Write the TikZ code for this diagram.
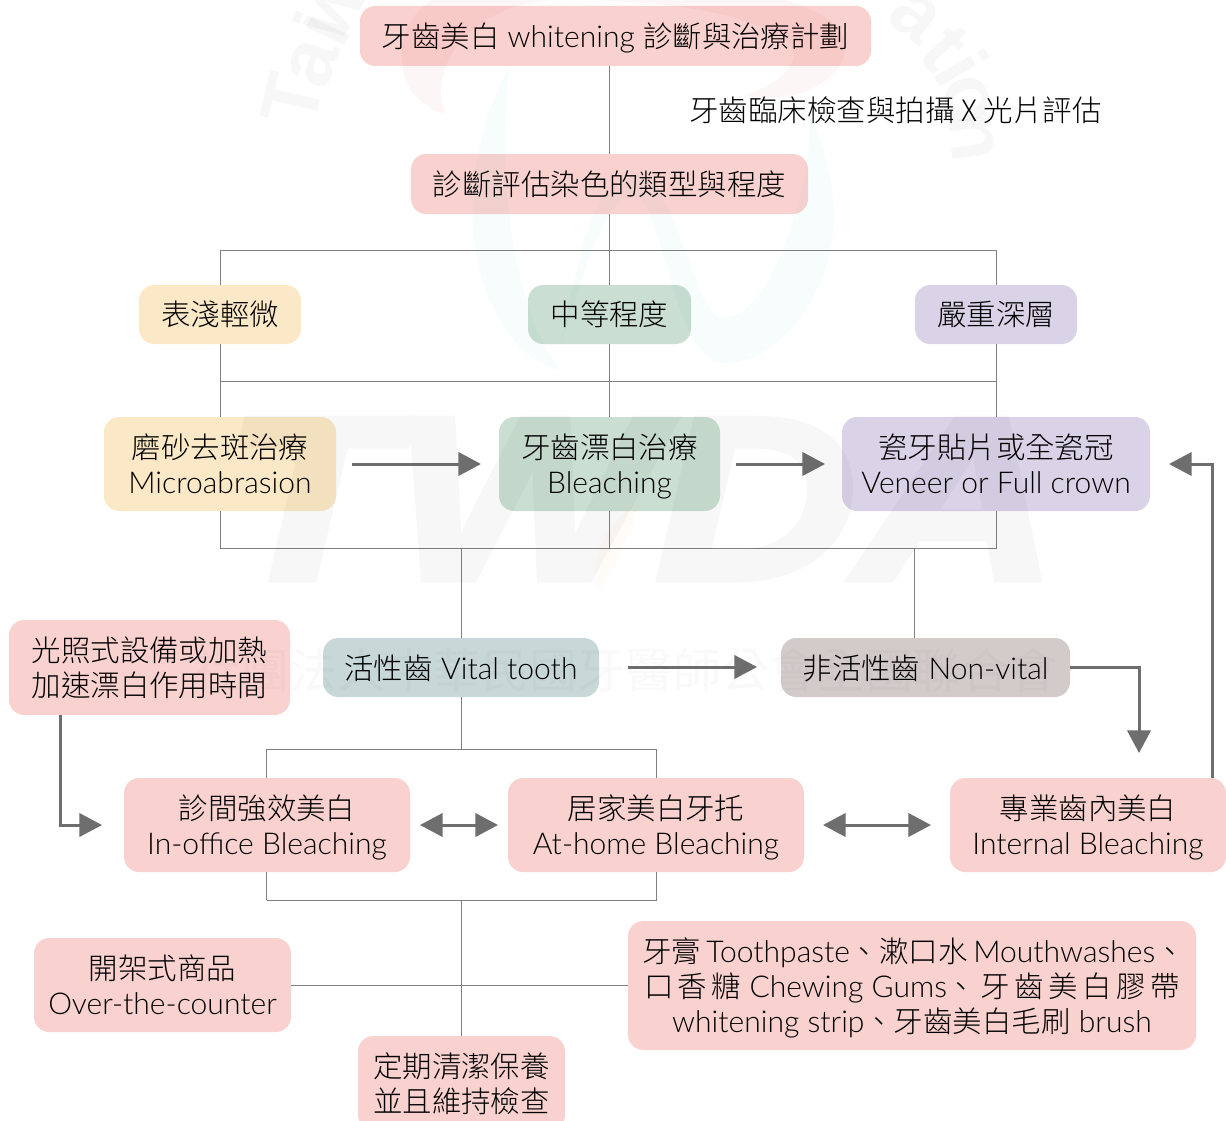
\documentclass[tikz,border=0pt]{standalone}
\usepackage{fontspec}
\usetikzlibrary{arrows.meta}
\setmainfont[Scale=1.02]{Lato Light}
\newfontfamily\cj{Noto Sans CJK TC Light}
\newfontfamily\cjrow{Noto Sans CJK TC}
\newfontfamily\wmfont{Liberation Sans}
\newfontfamily\wmheavy[FakeBold=3]{Liberation Sans Bold Italic}
\newcommand{\C}[1]{{\cj #1}}
\definecolor{cpink}{HTML}{F9D2D0}
\definecolor{cyellow}{HTML}{FBE8C6}
\definecolor{cgreen}{HTML}{CBDED2}
\definecolor{cpurple}{HTML}{DAD3E8}
\definecolor{cteal}{HTML}{C8D8D9}
\definecolor{crose}{HTML}{D3CACA}
\definecolor{cline}{HTML}{808080}
\definecolor{carrow}{HTML}{6E6E6E}
\tikzset{
  wh/.style 2 args={minimum width=#1*0.75pt,minimum height=#2*0.75pt},
  pbox/.style={rounded corners=11.5pt,inner sep=0pt,align=center,text=black,
    font=\fontsize{22.1pt}{26.25pt}\selectfont,
    execute at begin node={\rule{0pt}{21.8pt}},
    execute at end node={\rule[-5pt]{0pt}{5pt}}},
  latinline/.style={execute at begin node={\rule{0pt}{22.6pt}}},
  twolines/.style={execute at begin node={\rule{0pt}{49.2pt}}},
  threelines/.style={execute at begin node={\rule{0pt}{75.7pt}}},
  thin line/.style={draw=cline,line width=0.6pt},
  arrowline/.style={draw=carrow,line width=2.25pt,-{Triangle[length=17pt,width=17.5pt]}},
  dblline/.style={draw=carrow,line width=2.25pt,{Triangle[length=17pt,width=17.5pt]}-{Triangle[length=17pt,width=17.5pt]}},
  wmletter/.style={text=black,text opacity=0.03,font=\wmfont\bfseries\fontsize{60pt}{60pt}\selectfont,inner sep=0pt},
  wmpink/.style={fill=red!85!black,fill opacity=0.035,draw=none},
  wmteal/.style={fill=teal!70!cyan,fill opacity=0.03,draw=none},
}
\begin{document}
\begin{tikzpicture}[x=0.75pt,y=-0.75pt]
\useasboundingbox (0,0) rectangle (1226,1120);
\clip (0,0) rectangle (1226,1120);
\fill[white] (0,0) rectangle (1226,1120);

% boxes
\node[pbox,latinline,fill=cpink,wh={511}{60}] (top) at (615.5,36) {\C{牙齒美白} whitening \C{診斷與治療計劃}};
\node[inner sep=0pt,text=black,font=\fontsize{22.1pt}{26.25pt}\selectfont] (note) at (895.5,110) {\C{牙齒臨床檢查與拍攝 X 光片評估}};
\node[pbox,fill=cpink,wh={397}{60}] (diag) at (609.5,184) {\C{診斷評估染色的類型與程度}};

\node[pbox,fill=cyellow,wh={162}{59}] (mild) at (220,314.5) {\C{表淺輕微}};
\node[pbox,fill=cgreen,wh={163}{59}] (medium) at (609.5,314.5) {\C{中等程度}};
\node[pbox,fill=cpurple,wh={162}{59}] (severe) at (996,314.5) {\C{嚴重深層}};

\node[pbox,twolines,fill=cyellow,wh={232}{94}] (micro) at (220,464) {\C{磨砂去斑治療}\\Microabrasion};
\node[pbox,twolines,fill=cgreen,wh={221}{94}] (bleach) at (609.5,464) {\C{牙齒漂白治療}\\Bleaching};
\node[pbox,twolines,fill=cpurple,wh={308}{94}] (veneer) at (996,464) {\C{瓷牙貼片或全瓷冠}\\Veneer or Full crown};

\node[pbox,twolines,fill=cpink,wh={281}{95}] (light) at (149.5,667.5) {\C{光照式設備或加熱}\\\C{加速漂白作用時間}};
\node[pbox,latinline,fill=cteal,wh={276}{59}] (vital) at (461,667.5) {\C{活性齒} Vital tooth};
\node[pbox,latinline,fill=crose,wh={289}{59}] (nonvital) at (925.5,667.5) {\C{非活性齒} Non-vital};

\node[pbox,twolines,fill=cpink,wh={286}{94}] (office) at (267,825) {\C{診間強效美白}\\In-office Bleaching};
\node[pbox,twolines,fill=cpink,wh={296}{94}] (home) at (656,825) {\C{居家美白牙托}\\At-home Bleaching};
\node[pbox,twolines,fill=cpink,wh={276}{94}] (internal) at (1088,825) {\C{專業齒內美白}\\Internal Bleaching};

\node[pbox,twolines,fill=cpink,wh={257}{94}] (otc) at (162.5,985) {\C{開架式商品}\\Over-the-counter};
\node[pbox,threelines,fill=cpink,wh={568}{129}] (paste) at (912,985.5) {%
  \makebox[405pt][s]{\C{牙膏} Toothpaste\C{、}\C{漱口水} Mouthwashes\C{、}}\\
  \makebox[402pt][s]{\C{口}\hfil\C{香}\hfil\C{糖} Chewing Gums\C{、}\hfil\C{牙}\hfil\C{齒}\hfil\C{美}\hfil\C{白}\hfil\C{膠}\hfil\C{帶}}\\
  whitening strip\C{、}\C{牙齒美白毛刷} brush};
\node[pbox,twolines,fill=cpink,wh={207}{94}] (clean) at (461.5,1083) {\C{定期清潔保養}\\\C{並且維持檢查}};

% junction coordinates
\coordinate (tl) at (220,250);
\coordinate (tr) at (996,250);
\coordinate (tc) at (609.5,250);
\coordinate (ml) at (220,381);
\coordinate (mr) at (996,381);
\coordinate (mc) at (609.5,381);
\coordinate (bl) at (220,548.5);
\coordinate (br) at (996,548.5);
\coordinate (bc) at (609.5,548.5);
\coordinate (bv) at (461.5,548.5);
\coordinate (bn) at (914.5,548.5);
\coordinate (ul) at (266.5,749);
\coordinate (ur) at (656.5,749);
\coordinate (uc) at (461.5,749);
\coordinate (ll) at (266.5,900);
\coordinate (lr) at (656.5,900);
\coordinate (lc) at (461.5,900);
\coordinate (cross) at (461.5,985.5);

% thin connectors
\draw[thin line] (top.south -| diag) -- (diag.north);
\draw[thin line] (diag.south) -- (tc);
\draw[thin line] (tl) -- (tr);
\draw[thin line] (tl) -- (mild.north);
\draw[thin line] (tc) -- (medium.north);
\draw[thin line] (tr) -- (severe.north);
\draw[thin line] (mild.south) -- (ml);
\draw[thin line] (medium.south) -- (mc);
\draw[thin line] (severe.south) -- (mr);
\draw[thin line] (ml) -- (mr);
\draw[thin line] (ml) -- (micro.north);
\draw[thin line] (mc) -- (bleach.north);
\draw[thin line] (mr) -- (veneer.north);
\draw[thin line] (micro.south) -- (bl);
\draw[thin line] (bleach.south) -- (bc);
\draw[thin line] (veneer.south) -- (br);
\draw[thin line] (bl) -- (br);
\draw[thin line] (bv) -- (bv |- vital.north);
\draw[thin line] (bn) -- (bn |- nonvital.north);
\draw[thin line] (uc |- vital.south) -- (uc);
\draw[thin line] (ul) -- (ur);
\draw[thin line] (ul) -- (ul |- office.north);
\draw[thin line] (ur) -- (ur |- home.north);
\draw[thin line] (ll |- office.south) -- (ll);
\draw[thin line] (lr |- home.south) -- (lr);
\draw[thin line] (ll) -- (lr);
\draw[thin line] (lc) -- (lc |- clean.north);
\draw[thin line] (otc.east |- cross) -- (paste.west |- cross);

% arrows
\coordinate (a1s) at (352,464); \coordinate (a1e) at (481,464);
\coordinate (a2s) at (736,464); \coordinate (a2e) at (825,464);
\coordinate (a3s) at (628,667); \coordinate (a3e) at (757,667);
\draw[arrowline] (a1s) -- (a1e);
\draw[arrowline] (a2s) -- (a2e);
\draw[arrowline] (a3s) -- (a3e);
\coordinate (a4m) at (1139,667); \coordinate (a4e) at (1139,753);
\draw[arrowline] (nonvital.east |- a4m) -- (a4m) -- (a4e);
\coordinate (a5m) at (1212,464); \coordinate (a5e) at (1169,464); \coordinate (a5s) at (1212,778);
\draw[arrowline] (a5s) -- (a5m) -- (a5e);
\coordinate (a6s) at (60,715); \coordinate (a6m) at (60,825); \coordinate (a6e) at (102,825);
\draw[arrowline] (a6s) -- (a6m) -- (a6e);
\coordinate (d1s) at (420,825); \coordinate (d1e) at (498,825);
\coordinate (d2s) at (823,825); \coordinate (d2e) at (931,825);
\draw[dblline] (d1s) -- (d1e);
\draw[dblline] (d2s) -- (d2e);

% watermark (over everything, very faint)
\fill[wmpink] (402,60) .. controls (398,20) and (430,-10) .. (480,-20) -- (620,-20)
  .. controls (720,-20) and (850,0) .. (845,50) .. controls (840,85) and (790,105) .. (745,95)
  .. controls (790,80) and (815,50) .. (770,30) .. controls (700,0) and (600,0) .. (560,0)
  .. controls (480,0) and (425,60) .. (445,115) .. controls (420,105) and (404,90) .. (402,60) -- cycle;
\fill[wmteal] (509,67) .. controls (470,140) and (460,230) .. (490,300) .. controls (510,345) and (535,365) .. (560,370)
  .. controls (520,320) and (495,200) .. (509,67) -- cycle;
\fill[wmteal] (560,345) .. controls (585,280) and (600,197) .. (634,197) .. controls (665,197) and (670,363) .. (726,363)
  .. controls (780,363) and (835,290) .. (834,213) .. controls (833,170) and (820,140) .. (810,117)
  .. controls (812,190) and (770,318) .. (724,318) .. controls (690,318) and (680,175) .. (634,175)
  .. controls (590,175) and (575,280) .. (560,345) -- cycle;
\fill[orange,fill opacity=0.03] (640,500) .. controls (610,520) and (585,560) .. (598,590)
  .. controls (610,575) and (625,550) .. (640,500) -- cycle;
\begin{scope}[transparency group,opacity=0.03]
\node[text=black,inner sep=0pt,xscale=1.2,font=\wmheavy\fontsize{174pt}{174pt}\selectfont] (wmmark) at (640,499) {TWDA};
\end{scope}
\node[text=black,text opacity=0.022,inner sep=0pt,font=\cjrow\fontsize{36pt}{36pt}\selectfont] (wmrow) at (625,670) {社團法人中華民國牙醫師公會全國聯合會};
\node[wmletter,rotate=77] (w1) at (292,100) {T};
\node[wmletter,rotate=70] (w2) at (313,63) {a};
\node[wmletter,rotate=65] (w3) at (321,28) {i};
\node[wmletter,rotate=60] (w4) at (337,8) {w};
\node[wmletter,rotate=-38] (w5) at (915,17) {a};
\node[wmletter,rotate=-48] (w6) at (945,48) {t};
\node[wmletter,rotate=-60] (w7) at (962,68) {i};
\node[wmletter,rotate=-70] (w8) at (968,100) {o};
\node[wmletter,rotate=-83] (w9) at (972,137) {n};
\end{tikzpicture}
\end{document}
